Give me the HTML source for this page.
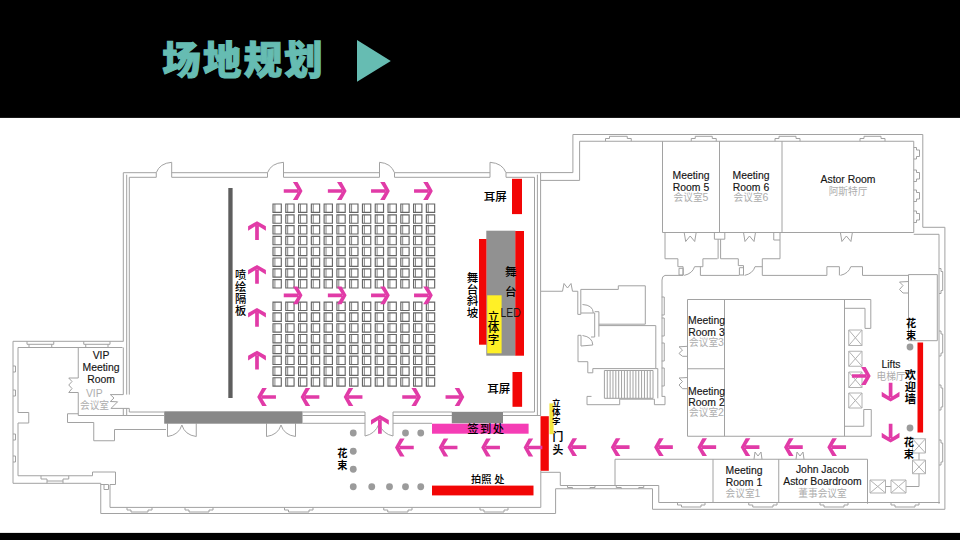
<!DOCTYPE html>
<html lang="zh"><head><meta charset="utf-8"><title>场地规划</title>
<style>
html,body{margin:0;padding:0;background:#fff;}
body{width:960px;height:540px;overflow:hidden;font-family:"Liberation Sans","Noto Sans CJK SC",sans-serif;}
svg{display:block}
.w{fill:none;stroke:#a2a2a2;stroke-width:1}
.seat{fill:none;stroke:#666;stroke-width:1.15}
.ar{fill:#e13ba7;stroke:none}
.en{font-family:"Liberation Sans",sans-serif;font-size:10.4px;fill:#151515;text-anchor:middle;stroke:#151515;stroke-width:0.14}
.cn{font-family:"Liberation Sans","Noto Sans CJK SC",sans-serif;font-size:9.7px;fill:#adadad;text-anchor:middle}
.lb{font-family:"Liberation Sans","Noto Sans CJK SC",sans-serif;font-size:11.5px;fill:#000;font-weight:500;text-anchor:middle}
</style></head><body>
<svg width="960" height="540" viewBox="0 0 960 540">
<rect x="0" y="0" width="960" height="540" fill="#fff"/>
<rect x="0" y="0" width="960" height="117.9" fill="#000"/>
<rect x="0" y="532.9" width="960" height="8" fill="#000"/>
<text x="162.3" y="74.2" font-family="'Liberation Sans','Noto Sans CJK SC',sans-serif" font-weight="900" font-size="38.4" letter-spacing="2.3" fill="#66bcb2" stroke="#66bcb2" stroke-width="1.1">场地规划</text>
<path d="M357 40.1L390.8 60.9L357 81.8Z" fill="#66bcb2"/>

<path class="w" d="M123.3 172.7 H156.25 M129.3 177.3 H156.25 M171.7 172.7 H267.5 M171.7 177.3 H267.5 M283.5 172.7 H379.5 M283.5 177.3 H379.5 M394.5 172.7 H490 M394.5 177.3 H490 M506 172.7 H540.6 M506 177.3 H534.5 M156.25 172.7 V177.3 M171.7 162.3 V177.3 M156.25 172.7 Q159.75 163.2 171.7 162.3 M267.5 172.7 V177.3 M283.5 162.3 V177.3 M267.5 172.7 Q271 163.2 283.5 162.3 M394.5 172.7 V177.3 M379.5 162.3 V177.3 M394.5 172.7 Q391 163.2 379.5 162.3 M506 172.7 V177.3 M490 162.3 V177.3 M506 172.7 Q502.5 163.2 490 162.3 M123.3 172.7 V341.5 M126.7 174.7 V394.6 M126.7 408.4 V415.5 M129.3 177.3 V394.6 M129.3 408.4 V412 M534.5 177.3 V412 M537.4 174.7 V415 M540.6 172.7 V416 M129.3 412 H164 M302.5 412 H365 M393 412 H452 M503 412 H534.5 M129.3 415.5 H164 M302.5 415.5 H365 M393 415.5 H452 M503 415.5 H540.6 M302.5 423.3 H365 M393 423.3 H432 M365 412 V436 M393 412 V436 M365 436 Q375 434 379 424 M393 436 Q383 434 379 424 M167.5 423.5 V436.5 M196.25 423.5 V436.5 M167.5 436.5 Q178.875 435 181.875 425 M196.25 436.5 Q184.875 435 181.875 425 M266.5 423.5 V436.5 M295.5 423.5 V436.5 M266.5 436.5 Q278 435 281 425 M295.5 436.5 Q284 435 281 425 M123.3 341.3 L13 341.3 L13 483.3 L100.75 483.3 L100.75 513.5 L555.6 513.5 L555.6 488.75 L652.5 488.75 L652.5 509.3 L944.9 509.3 M122.5 347.5 L18 347.5 L18 412.5 L28.75 412.5 L28.75 423 L18 423 L18 475.75 L92.5 475.75 L92.5 472 L115.5 472 L115.5 484.5 L110 484.5 L110 507.4 L540.8 507.4 L540.8 471 M104 484.5 L104 489.5 L108.5 489.5 L108.5 484.5 L100.75 484.5 M27 341.3 L27 344.3 L53.75 344.3 L53.75 341.3 M29 344.3 L29 347.5 M51.75 344.3 L51.75 347.5 M83.75 341.3 L83.75 344.3 L110 344.3 L110 341.3 M85.75 344.3 L85.75 347.5 M108 344.3 L108 347.5 M13 366 L15.5 366 L15.5 372 L13 372 M13 390 L15.5 390 L15.5 396 L13 396 M13 434 L15.5 434 L15.5 440 L13 440 M13 456 L15.5 456 L15.5 462 L13 462 M41 475.75 L41 479 L47 479 L47 483.3 M68.75 475.75 L68.75 479 L63 479 L63 483.3 M47 481 L63 481 M78.25 347.5 L78.25 378 M78.25 392.5 L78.25 415.5 L164 415.5 M123.3 347.5 L123.3 394.6 M123.3 408.4 L123.3 415.5 M78.25 378 L68.75 378 L72 381.5 L68.75 385 L72 388.5 L68.75 392.5 L78.25 392.5 M123.3 394.6 L110.3 394.6 L114 398 L110.3 401.5 L117.6 401.8 L111 408.4 L129.3 408.4 M78.25 413.75 L67.5 413.75 L67.5 422.5 L93.75 422.5 L93.75 440.75 L114.5 440.75 L114.5 429.5 L166 429.5 M127 507.5 L127 510 L131 510 L131 512 L148 512 L148 510 L152 510 L152 507.5 M185 507.5 L185 510 L189 510 L189 512 L209 512 L209 510 L213 510 L213 507.5 M284.5 507.5 L284.5 510 L288.5 510 L288.5 512 L309 512 L309 510 L313 510 L313 507.5 M383.75 507.5 L383.75 510 L387.75 510 L387.75 512 L408 512 L408 510 L412 510 L412 507.5 M480 507.5 L480 510 L484 510 L484 512 L504 512 L504 510 L508 510 L508 507.5 M540.6 172.6 L572.9 172.6 L572.9 134.5 L922.8 134.5 L922.8 227.3 L944.9 227.3 L944.9 509.3 M540.6 180.4 L579.6 180.4 L579.6 141.25 L913.75 141.25 L913.75 232.5 M913.75 234.3 L939 234.3 L939 503.75 M605.5 141.25 L605.5 138.5 L609.5 138.5 L609.5 136.3 L627.25 136.3 L627.25 138.5 L631.25 138.5 L631.25 141.25 M691.25 141.25 L691.25 138.5 L695.25 138.5 L695.25 136.3 L712.25 136.3 L712.25 138.5 L716.25 138.5 L716.25 141.25 M775 141.25 L775 138.5 L779 138.5 L779 136.3 L796 136.3 L796 138.5 L800 138.5 L800 141.25 M860 141.25 L860 138.5 L864 138.5 L864 136.3 L881 136.3 L881 138.5 L885 138.5 L885 141.25 M913.75 147.5 L916.5 147.5 L916.5 150 L919.5 150 L919.5 156.5 L916.5 156.5 L916.5 159 L913.75 159 M913.75 170 L916.5 170 L916.5 172.5 L919.5 172.5 L919.5 179 L916.5 179 L916.5 181.5 L913.75 181.5 M913.75 190 L916.5 190 L916.5 192.5 L919.5 192.5 L919.5 199 L916.5 199 L916.5 201.5 L913.75 201.5 M913.75 211 L916.5 211 L916.5 213.5 L919.5 213.5 L919.5 220 L916.5 220 L916.5 222.5 L913.75 222.5 M939 268.5 L941 268.5 L941 271.5 L942.7 271.5 L942.7 290.5 L941 290.5 L941 293.5 L939 293.5 M939 331 L941 331 L941 334 L942.7 334 L942.7 353 L941 353 L941 356 L939 356 M939 385 L941 385 L941 388 L942.7 388 L942.7 407 L941 407 L941 410 L939 410 M939 440 L941 440 L941 443 L942.7 443 L942.7 462 L941 462 L941 465 L939 465 M662.5 141.25 L662.5 232.5 L913.75 232.5 M719.5 141.25 L719.5 232.5 M782 141.25 L782 232.5 M665 232.5 L665 258.75 L677.9 258.75 L677.9 266.7 L683.1 266.7 L683.1 275.4 M679 268.3 H683.1 V275 H679 Z M684.2 275.4 Q692.5 273.5 694.6 266.7 M694.6 266.7 L702.9 266.7 L702.9 258.75 L717.5 258.75 M700.4 266.7 L700.4 275.4 L739.4 275.4 M718.1 239.2 L718.1 258.75 M720.6 239.2 L720.6 258.75 M714.4 232.5 H724.8 V239.2 H714.4 Z M720.6 258.75 L738.3 258.75 L738.3 265.6 L743.5 265.6 L743.5 275.4 M739.4 267.7 H743.5 V275 H739.4 Z M744.6 275.4 Q753 273.5 755 266.7 M755 266.7 L762.3 266.7 M762.3 275.4 L762.3 258.75 L780 258.75 L780 232.5 M773.75 232.5 L773.75 240 L780 240 M684.2 232.5 L685.7 241.5 L690.2 236 L694.7 241.5 L696.2 232.5 M743.5 232.5 L745 241.5 L749.5 236 L754 241.5 L755.5 232.5 M840.4 232.5 L841.9 241.5 L846.4 236 L850.9 241.5 L852.4 232.5 M665 275.4 L683.1 275.4 M762.3 275.4 L826.9 275.4 L826.9 266.7 L839.4 266.7 L839.4 275.4 M840.4 275.4 Q848.5 273.5 850.8 266.7 M850.8 266.7 L862.5 266.7 L862.5 275.4 L908.5 275.4 M908.5 274.6 H937.3 V340.7 H908.5 Z M908.5 281.5 L899.5 282 L903 285.5 L899.5 289.5 L903 293 L908.5 293 M665 275.4 Q662 276 662 280 V396.4 M661.75 297 L664.25 297 L664.25 315 L661.75 315 M661.75 318 L664.25 318 L664.25 336 L661.75 336 M661.75 343 L664.25 343 L664.25 361 L661.75 361 M661.75 368 L664.25 368 L664.25 386 L661.75 386 M687.5 436.25 L687.5 299.5 L870.8 299.5 L870.8 328.4 L865 328.4 L865 308.3 L844.5 308.3 M724.5 299.5 L724.5 436.25 M844.5 299.5 L844.5 436.25 M687.5 368.75 L724.5 368.75 M687.5 436.25 L871.25 436.25 L871.25 409.5 L863.75 409.5 L863.75 426.25 L844.5 426.25 M687.5 346.3 L679 346.8 L682.5 350 L679 353.5 L682.5 356.3 L687.5 356.3 M687.5 377.5 L679 378 L682.5 381.5 L679 385 L682.5 388.7 L687.5 388.7 M885.5 486.5 L891 486.5 M906 486.5 L919 486.5 L919 473.75 M919 453 L919 460 M615 485.5 L615 459.25 L867.5 459.25 L867.5 503.75 M713 459.25 L713 502.5 M778.75 459.25 L778.75 502.5 M754 459.25 L755 452 L758 456 L761 452 L762 459.25 M796 459.25 L797 452 L800 456 L803 452 L804 459.25 M540.8 472.3 L560.3 472.3 L560.3 485.5 L658.75 485.5 L658.75 502.5 L940 502.5 M567.5 485.5 L567.5 487.5 L572.5 487.5 L572.5 488.75 M595 485.5 L595 487.5 L590 487.5 L590 488.75 M616.25 485.5 L616.25 487.5 L621.25 487.5 L621.25 488.75 M643.75 485.5 L643.75 487.5 L638.75 487.5 L638.75 488.75 M677.5 502.5 L677.5 505 L681.5 505 L681.5 507 L701 507 L701 505 L705 505 L705 502.5 M748.75 502.5 L748.75 505 L752.75 505 L752.75 507 L773 507 L773 505 L777 505 L777 502.5 M820 502.5 L820 505 L824 505 L824 507 L844 507 L844 505 L848 505 L848 502.5 M891 502.5 L891 505 L895 505 L895 507 L915 507 L915 505 L919 505 L919 502.5 M541 291.25 L562.5 291.25 L564 283.5 L567.5 288 L571 283.5 L572.5 291.25 L577.8 291.25 M577.8 291.25 L577.8 314.4 L580.8 314.4 L580.8 289.4 L618.3 289.4 L618.3 285.8 L645.3 285.8 L645.3 324.2 L598.9 324.2 M582.5 304.5 Q593 305 593.3 313 L581 313 M593.3 313 L594.7 313 L594.7 337 L591 337 M598.9 311.7 L598.9 336.7 M594.7 311.7 L598.9 311.7 M578 335.3 L578 361.7 L587.8 361.7 L587.8 372.8 L592.8 372.8 L592.8 368.6 M578 335.3 L581 335.3 L581 346 M582.5 335.5 Q592.5 337 592.8 345 L581 346 M598.9 325.6 L655.8 325.6 L655.8 368.6 L592.8 368.6 M655.8 368.6 L657.8 368.6 L657.8 398.3 M587 396.4 L587 404.7 L619.7 404.7 L619.7 399.2 L654.4 399.2 L654.4 404.7 L665 404.7 L665 396.4 L661.75 396.4 M587 396.4 L591.5 396.4 M604.4 370.5 L653 370.5 M604.4 398.3 L653 398.3 M604.4 370.5 V398.3 M607.26 370.5 V398.3 M610.12 370.5 V398.3 M612.98 370.5 V398.3 M615.84 370.5 V398.3 M618.7 370.5 V398.3 M621.56 370.5 V398.3 M624.42 370.5 V398.3 M627.28 370.5 V398.3 M630.14 370.5 V398.3 M633 370.5 V398.3 M635.86 370.5 V398.3 M638.72 370.5 V398.3 M641.58 370.5 V398.3 M644.44 370.5 V398.3 M647.3 370.5 V398.3 M650.16 370.5 V398.3 M653.02 370.5 V398.3 "/>
<path class="w" style="stroke:#b2b2b2" d="M848.75 330 H862 V345.5 H848.75 Z M848.75 330 L862 345.5 M862 330 L848.75 345.5 M848.75 351.25 H862 V366.25 H848.75 Z M848.75 351.25 L862 366.25 M862 351.25 L848.75 366.25 M848.75 372 H862 V387.5 H848.75 Z M848.75 372 L862 387.5 M862 372 L848.75 387.5 M848.75 393 H862 V408 H848.75 Z M848.75 393 L862 408 M862 393 L848.75 408 M912.5 438.75 H925.5 V453 H912.5 Z M912.5 438.75 L925.5 453 M925.5 438.75 L912.5 453 M912.5 460 H925.5 V473.75 H912.5 Z M912.5 460 L925.5 473.75 M925.5 460 L912.5 473.75 M870 480 H885.5 V493 H870 Z M870 480 L885.5 493 M885.5 480 L870 493 M891 480 H906 V493 H891 Z M891 480 L906 493 M906 480 L891 493"/>
<path class="seat" d="M273.00 204.00h8.3v8.4h-8.3z M285.78 204.00h8.3v8.4h-8.3z M298.56 204.00h8.3v8.4h-8.3z M311.34 204.00h8.3v8.4h-8.3z M324.12 204.00h8.3v8.4h-8.3z M336.90 204.00h8.3v8.4h-8.3z M349.68 204.00h8.3v8.4h-8.3z M362.46 204.00h8.3v8.4h-8.3z M375.24 204.00h8.3v8.4h-8.3z M388.02 204.00h8.3v8.4h-8.3z M400.80 204.00h8.3v8.4h-8.3z M413.58 204.00h8.3v8.4h-8.3z M426.36 204.00h8.3v8.4h-8.3z M273.00 214.80h8.3v8.4h-8.3z M285.78 214.80h8.3v8.4h-8.3z M298.56 214.80h8.3v8.4h-8.3z M311.34 214.80h8.3v8.4h-8.3z M324.12 214.80h8.3v8.4h-8.3z M336.90 214.80h8.3v8.4h-8.3z M349.68 214.80h8.3v8.4h-8.3z M362.46 214.80h8.3v8.4h-8.3z M375.24 214.80h8.3v8.4h-8.3z M388.02 214.80h8.3v8.4h-8.3z M400.80 214.80h8.3v8.4h-8.3z M413.58 214.80h8.3v8.4h-8.3z M426.36 214.80h8.3v8.4h-8.3z M273.00 225.60h8.3v8.4h-8.3z M285.78 225.60h8.3v8.4h-8.3z M298.56 225.60h8.3v8.4h-8.3z M311.34 225.60h8.3v8.4h-8.3z M324.12 225.60h8.3v8.4h-8.3z M336.90 225.60h8.3v8.4h-8.3z M349.68 225.60h8.3v8.4h-8.3z M362.46 225.60h8.3v8.4h-8.3z M375.24 225.60h8.3v8.4h-8.3z M388.02 225.60h8.3v8.4h-8.3z M400.80 225.60h8.3v8.4h-8.3z M413.58 225.60h8.3v8.4h-8.3z M426.36 225.60h8.3v8.4h-8.3z M273.00 236.40h8.3v8.4h-8.3z M285.78 236.40h8.3v8.4h-8.3z M298.56 236.40h8.3v8.4h-8.3z M311.34 236.40h8.3v8.4h-8.3z M324.12 236.40h8.3v8.4h-8.3z M336.90 236.40h8.3v8.4h-8.3z M349.68 236.40h8.3v8.4h-8.3z M362.46 236.40h8.3v8.4h-8.3z M375.24 236.40h8.3v8.4h-8.3z M388.02 236.40h8.3v8.4h-8.3z M400.80 236.40h8.3v8.4h-8.3z M413.58 236.40h8.3v8.4h-8.3z M426.36 236.40h8.3v8.4h-8.3z M273.00 247.20h8.3v8.4h-8.3z M285.78 247.20h8.3v8.4h-8.3z M298.56 247.20h8.3v8.4h-8.3z M311.34 247.20h8.3v8.4h-8.3z M324.12 247.20h8.3v8.4h-8.3z M336.90 247.20h8.3v8.4h-8.3z M349.68 247.20h8.3v8.4h-8.3z M362.46 247.20h8.3v8.4h-8.3z M375.24 247.20h8.3v8.4h-8.3z M388.02 247.20h8.3v8.4h-8.3z M400.80 247.20h8.3v8.4h-8.3z M413.58 247.20h8.3v8.4h-8.3z M426.36 247.20h8.3v8.4h-8.3z M273.00 258.00h8.3v8.4h-8.3z M285.78 258.00h8.3v8.4h-8.3z M298.56 258.00h8.3v8.4h-8.3z M311.34 258.00h8.3v8.4h-8.3z M324.12 258.00h8.3v8.4h-8.3z M336.90 258.00h8.3v8.4h-8.3z M349.68 258.00h8.3v8.4h-8.3z M362.46 258.00h8.3v8.4h-8.3z M375.24 258.00h8.3v8.4h-8.3z M388.02 258.00h8.3v8.4h-8.3z M400.80 258.00h8.3v8.4h-8.3z M413.58 258.00h8.3v8.4h-8.3z M426.36 258.00h8.3v8.4h-8.3z M273.00 268.80h8.3v8.4h-8.3z M285.78 268.80h8.3v8.4h-8.3z M298.56 268.80h8.3v8.4h-8.3z M311.34 268.80h8.3v8.4h-8.3z M324.12 268.80h8.3v8.4h-8.3z M336.90 268.80h8.3v8.4h-8.3z M349.68 268.80h8.3v8.4h-8.3z M362.46 268.80h8.3v8.4h-8.3z M375.24 268.80h8.3v8.4h-8.3z M388.02 268.80h8.3v8.4h-8.3z M400.80 268.80h8.3v8.4h-8.3z M413.58 268.80h8.3v8.4h-8.3z M426.36 268.80h8.3v8.4h-8.3z M273.00 279.60h8.3v8.4h-8.3z M285.78 279.60h8.3v8.4h-8.3z M298.56 279.60h8.3v8.4h-8.3z M311.34 279.60h8.3v8.4h-8.3z M324.12 279.60h8.3v8.4h-8.3z M336.90 279.60h8.3v8.4h-8.3z M349.68 279.60h8.3v8.4h-8.3z M362.46 279.60h8.3v8.4h-8.3z M375.24 279.60h8.3v8.4h-8.3z M388.02 279.60h8.3v8.4h-8.3z M400.80 279.60h8.3v8.4h-8.3z M413.58 279.60h8.3v8.4h-8.3z M426.36 279.60h8.3v8.4h-8.3z M273.00 302.10h8.3v8.4h-8.3z M285.78 302.10h8.3v8.4h-8.3z M298.56 302.10h8.3v8.4h-8.3z M311.34 302.10h8.3v8.4h-8.3z M324.12 302.10h8.3v8.4h-8.3z M336.90 302.10h8.3v8.4h-8.3z M349.68 302.10h8.3v8.4h-8.3z M362.46 302.10h8.3v8.4h-8.3z M375.24 302.10h8.3v8.4h-8.3z M388.02 302.10h8.3v8.4h-8.3z M400.80 302.10h8.3v8.4h-8.3z M413.58 302.10h8.3v8.4h-8.3z M426.36 302.10h8.3v8.4h-8.3z M273.00 312.90h8.3v8.4h-8.3z M285.78 312.90h8.3v8.4h-8.3z M298.56 312.90h8.3v8.4h-8.3z M311.34 312.90h8.3v8.4h-8.3z M324.12 312.90h8.3v8.4h-8.3z M336.90 312.90h8.3v8.4h-8.3z M349.68 312.90h8.3v8.4h-8.3z M362.46 312.90h8.3v8.4h-8.3z M375.24 312.90h8.3v8.4h-8.3z M388.02 312.90h8.3v8.4h-8.3z M400.80 312.90h8.3v8.4h-8.3z M413.58 312.90h8.3v8.4h-8.3z M426.36 312.90h8.3v8.4h-8.3z M273.00 323.70h8.3v8.4h-8.3z M285.78 323.70h8.3v8.4h-8.3z M298.56 323.70h8.3v8.4h-8.3z M311.34 323.70h8.3v8.4h-8.3z M324.12 323.70h8.3v8.4h-8.3z M336.90 323.70h8.3v8.4h-8.3z M349.68 323.70h8.3v8.4h-8.3z M362.46 323.70h8.3v8.4h-8.3z M375.24 323.70h8.3v8.4h-8.3z M388.02 323.70h8.3v8.4h-8.3z M400.80 323.70h8.3v8.4h-8.3z M413.58 323.70h8.3v8.4h-8.3z M426.36 323.70h8.3v8.4h-8.3z M273.00 334.50h8.3v8.4h-8.3z M285.78 334.50h8.3v8.4h-8.3z M298.56 334.50h8.3v8.4h-8.3z M311.34 334.50h8.3v8.4h-8.3z M324.12 334.50h8.3v8.4h-8.3z M336.90 334.50h8.3v8.4h-8.3z M349.68 334.50h8.3v8.4h-8.3z M362.46 334.50h8.3v8.4h-8.3z M375.24 334.50h8.3v8.4h-8.3z M388.02 334.50h8.3v8.4h-8.3z M400.80 334.50h8.3v8.4h-8.3z M413.58 334.50h8.3v8.4h-8.3z M426.36 334.50h8.3v8.4h-8.3z M273.00 345.30h8.3v8.4h-8.3z M285.78 345.30h8.3v8.4h-8.3z M298.56 345.30h8.3v8.4h-8.3z M311.34 345.30h8.3v8.4h-8.3z M324.12 345.30h8.3v8.4h-8.3z M336.90 345.30h8.3v8.4h-8.3z M349.68 345.30h8.3v8.4h-8.3z M362.46 345.30h8.3v8.4h-8.3z M375.24 345.30h8.3v8.4h-8.3z M388.02 345.30h8.3v8.4h-8.3z M400.80 345.30h8.3v8.4h-8.3z M413.58 345.30h8.3v8.4h-8.3z M426.36 345.30h8.3v8.4h-8.3z M273.00 356.10h8.3v8.4h-8.3z M285.78 356.10h8.3v8.4h-8.3z M298.56 356.10h8.3v8.4h-8.3z M311.34 356.10h8.3v8.4h-8.3z M324.12 356.10h8.3v8.4h-8.3z M336.90 356.10h8.3v8.4h-8.3z M349.68 356.10h8.3v8.4h-8.3z M362.46 356.10h8.3v8.4h-8.3z M375.24 356.10h8.3v8.4h-8.3z M388.02 356.10h8.3v8.4h-8.3z M400.80 356.10h8.3v8.4h-8.3z M413.58 356.10h8.3v8.4h-8.3z M426.36 356.10h8.3v8.4h-8.3z M273.00 366.90h8.3v8.4h-8.3z M285.78 366.90h8.3v8.4h-8.3z M298.56 366.90h8.3v8.4h-8.3z M311.34 366.90h8.3v8.4h-8.3z M324.12 366.90h8.3v8.4h-8.3z M336.90 366.90h8.3v8.4h-8.3z M349.68 366.90h8.3v8.4h-8.3z M362.46 366.90h8.3v8.4h-8.3z M375.24 366.90h8.3v8.4h-8.3z M388.02 366.90h8.3v8.4h-8.3z M400.80 366.90h8.3v8.4h-8.3z M413.58 366.90h8.3v8.4h-8.3z M426.36 366.90h8.3v8.4h-8.3z M273.00 377.70h8.3v8.4h-8.3z M285.78 377.70h8.3v8.4h-8.3z M298.56 377.70h8.3v8.4h-8.3z M311.34 377.70h8.3v8.4h-8.3z M324.12 377.70h8.3v8.4h-8.3z M336.90 377.70h8.3v8.4h-8.3z M349.68 377.70h8.3v8.4h-8.3z M362.46 377.70h8.3v8.4h-8.3z M375.24 377.70h8.3v8.4h-8.3z M388.02 377.70h8.3v8.4h-8.3z M400.80 377.70h8.3v8.4h-8.3z M413.58 377.70h8.3v8.4h-8.3z M426.36 377.70h8.3v8.4h-8.3z"/>
<path class="seat" style="stroke-width:0.8" d="M274.90 204.00v8.4 M287.68 204.00v8.4 M300.46 204.00v8.4 M313.24 204.00v8.4 M326.02 204.00v8.4 M338.80 204.00v8.4 M351.58 204.00v8.4 M364.36 204.00v8.4 M377.14 204.00v8.4 M389.92 204.00v8.4 M402.70 204.00v8.4 M415.48 204.00v8.4 M428.26 204.00v8.4 M274.90 214.80v8.4 M287.68 214.80v8.4 M300.46 214.80v8.4 M313.24 214.80v8.4 M326.02 214.80v8.4 M338.80 214.80v8.4 M351.58 214.80v8.4 M364.36 214.80v8.4 M377.14 214.80v8.4 M389.92 214.80v8.4 M402.70 214.80v8.4 M415.48 214.80v8.4 M428.26 214.80v8.4 M274.90 225.60v8.4 M287.68 225.60v8.4 M300.46 225.60v8.4 M313.24 225.60v8.4 M326.02 225.60v8.4 M338.80 225.60v8.4 M351.58 225.60v8.4 M364.36 225.60v8.4 M377.14 225.60v8.4 M389.92 225.60v8.4 M402.70 225.60v8.4 M415.48 225.60v8.4 M428.26 225.60v8.4 M274.90 236.40v8.4 M287.68 236.40v8.4 M300.46 236.40v8.4 M313.24 236.40v8.4 M326.02 236.40v8.4 M338.80 236.40v8.4 M351.58 236.40v8.4 M364.36 236.40v8.4 M377.14 236.40v8.4 M389.92 236.40v8.4 M402.70 236.40v8.4 M415.48 236.40v8.4 M428.26 236.40v8.4 M274.90 247.20v8.4 M287.68 247.20v8.4 M300.46 247.20v8.4 M313.24 247.20v8.4 M326.02 247.20v8.4 M338.80 247.20v8.4 M351.58 247.20v8.4 M364.36 247.20v8.4 M377.14 247.20v8.4 M389.92 247.20v8.4 M402.70 247.20v8.4 M415.48 247.20v8.4 M428.26 247.20v8.4 M274.90 258.00v8.4 M287.68 258.00v8.4 M300.46 258.00v8.4 M313.24 258.00v8.4 M326.02 258.00v8.4 M338.80 258.00v8.4 M351.58 258.00v8.4 M364.36 258.00v8.4 M377.14 258.00v8.4 M389.92 258.00v8.4 M402.70 258.00v8.4 M415.48 258.00v8.4 M428.26 258.00v8.4 M274.90 268.80v8.4 M287.68 268.80v8.4 M300.46 268.80v8.4 M313.24 268.80v8.4 M326.02 268.80v8.4 M338.80 268.80v8.4 M351.58 268.80v8.4 M364.36 268.80v8.4 M377.14 268.80v8.4 M389.92 268.80v8.4 M402.70 268.80v8.4 M415.48 268.80v8.4 M428.26 268.80v8.4 M274.90 279.60v8.4 M287.68 279.60v8.4 M300.46 279.60v8.4 M313.24 279.60v8.4 M326.02 279.60v8.4 M338.80 279.60v8.4 M351.58 279.60v8.4 M364.36 279.60v8.4 M377.14 279.60v8.4 M389.92 279.60v8.4 M402.70 279.60v8.4 M415.48 279.60v8.4 M428.26 279.60v8.4 M274.90 302.10v8.4 M287.68 302.10v8.4 M300.46 302.10v8.4 M313.24 302.10v8.4 M326.02 302.10v8.4 M338.80 302.10v8.4 M351.58 302.10v8.4 M364.36 302.10v8.4 M377.14 302.10v8.4 M389.92 302.10v8.4 M402.70 302.10v8.4 M415.48 302.10v8.4 M428.26 302.10v8.4 M274.90 312.90v8.4 M287.68 312.90v8.4 M300.46 312.90v8.4 M313.24 312.90v8.4 M326.02 312.90v8.4 M338.80 312.90v8.4 M351.58 312.90v8.4 M364.36 312.90v8.4 M377.14 312.90v8.4 M389.92 312.90v8.4 M402.70 312.90v8.4 M415.48 312.90v8.4 M428.26 312.90v8.4 M274.90 323.70v8.4 M287.68 323.70v8.4 M300.46 323.70v8.4 M313.24 323.70v8.4 M326.02 323.70v8.4 M338.80 323.70v8.4 M351.58 323.70v8.4 M364.36 323.70v8.4 M377.14 323.70v8.4 M389.92 323.70v8.4 M402.70 323.70v8.4 M415.48 323.70v8.4 M428.26 323.70v8.4 M274.90 334.50v8.4 M287.68 334.50v8.4 M300.46 334.50v8.4 M313.24 334.50v8.4 M326.02 334.50v8.4 M338.80 334.50v8.4 M351.58 334.50v8.4 M364.36 334.50v8.4 M377.14 334.50v8.4 M389.92 334.50v8.4 M402.70 334.50v8.4 M415.48 334.50v8.4 M428.26 334.50v8.4 M274.90 345.30v8.4 M287.68 345.30v8.4 M300.46 345.30v8.4 M313.24 345.30v8.4 M326.02 345.30v8.4 M338.80 345.30v8.4 M351.58 345.30v8.4 M364.36 345.30v8.4 M377.14 345.30v8.4 M389.92 345.30v8.4 M402.70 345.30v8.4 M415.48 345.30v8.4 M428.26 345.30v8.4 M274.90 356.10v8.4 M287.68 356.10v8.4 M300.46 356.10v8.4 M313.24 356.10v8.4 M326.02 356.10v8.4 M338.80 356.10v8.4 M351.58 356.10v8.4 M364.36 356.10v8.4 M377.14 356.10v8.4 M389.92 356.10v8.4 M402.70 356.10v8.4 M415.48 356.10v8.4 M428.26 356.10v8.4 M274.90 366.90v8.4 M287.68 366.90v8.4 M300.46 366.90v8.4 M313.24 366.90v8.4 M326.02 366.90v8.4 M338.80 366.90v8.4 M351.58 366.90v8.4 M364.36 366.90v8.4 M377.14 366.90v8.4 M389.92 366.90v8.4 M402.70 366.90v8.4 M415.48 366.90v8.4 M428.26 366.90v8.4 M274.90 377.70v8.4 M287.68 377.70v8.4 M300.46 377.70v8.4 M313.24 377.70v8.4 M326.02 377.70v8.4 M338.80 377.70v8.4 M351.58 377.70v8.4 M364.36 377.70v8.4 M377.14 377.70v8.4 M389.92 377.70v8.4 M402.70 377.70v8.4 M415.48 377.70v8.4 M428.26 377.70v8.4"/>
<rect x="228.3" y="188" width="4.3" height="210" fill="#5e5e5e"/>
<rect x="164.2" y="411.3" width="138.3" height="12.4" fill="#888888"/>
<rect x="451.8" y="411.8" width="51.2" height="11.5" fill="#888888"/>
<rect x="486.3" y="230.7" width="29.2" height="125" fill="#919191"/>
<rect x="479" y="239" width="7.4" height="105.7" fill="#f20606"/>
<rect x="515.3" y="231" width="8.7" height="124.7" fill="#f20606"/>
<rect x="487.2" y="295.3" width="14.4" height="58" fill="#fff026"/>
<rect x="512" y="178.8" width="10" height="35.3" fill="#f20606"/>
<rect x="512.5" y="372" width="9.6" height="34.8" fill="#f20606"/>
<rect x="432" y="423.7" width="96.6" height="10" fill="#f53db5"/>
<rect x="432" y="485.6" width="101.5" height="9.8" fill="#f20606"/>
<rect x="549.4" y="403.4" width="4.2" height="30.8" fill="#f3e640"/>
<rect x="540.5" y="416.2" width="8.3" height="54.6" fill="#f20606"/>
<rect x="917.5" y="342.5" width="5.6" height="90" fill="#f20606"/>
<circle cx="353.25" cy="433" r="3.4" fill="#9b9b9b"/>
<circle cx="405.5" cy="433" r="3.4" fill="#9b9b9b"/>
<circle cx="420.75" cy="433" r="3.4" fill="#9b9b9b"/>
<circle cx="353.25" cy="451.25" r="3.4" fill="#9b9b9b"/>
<circle cx="353.25" cy="469.25" r="3.4" fill="#9b9b9b"/>
<circle cx="353.25" cy="486.75" r="3.4" fill="#9b9b9b"/>
<circle cx="371.75" cy="486.75" r="3.4" fill="#9b9b9b"/>
<circle cx="389.5" cy="486.75" r="3.4" fill="#9b9b9b"/>
<circle cx="405.5" cy="486.75" r="3.4" fill="#9b9b9b"/>
<circle cx="420.75" cy="486.75" r="3.4" fill="#9b9b9b"/>
<circle cx="910" cy="347" r="3.4" fill="#9b9b9b"/>
<circle cx="910" cy="428" r="3.4" fill="#9b9b9b"/>
<g class="ar"><g transform="translate(293.1 191) rotate(0)"><path d="M-9.35 -1.85H5V1.85H-9.35ZM-0.2 -8.9H4.4L9.4 0L4.4 8.9H-0.2L5.4 0Z"/></g><g transform="translate(293.1 295.3) rotate(0)"><path d="M-9.35 -1.85H5V1.85H-9.35ZM-0.2 -8.9H4.4L9.4 0L4.4 8.9H-0.2L5.4 0Z"/></g><g transform="translate(337.2 191) rotate(0)"><path d="M-9.35 -1.85H5V1.85H-9.35ZM-0.2 -8.9H4.4L9.4 0L4.4 8.9H-0.2L5.4 0Z"/></g><g transform="translate(337.2 295.3) rotate(0)"><path d="M-9.35 -1.85H5V1.85H-9.35ZM-0.2 -8.9H4.4L9.4 0L4.4 8.9H-0.2L5.4 0Z"/></g><g transform="translate(380.4 191) rotate(0)"><path d="M-9.35 -1.85H5V1.85H-9.35ZM-0.2 -8.9H4.4L9.4 0L4.4 8.9H-0.2L5.4 0Z"/></g><g transform="translate(380.4 295.3) rotate(0)"><path d="M-9.35 -1.85H5V1.85H-9.35ZM-0.2 -8.9H4.4L9.4 0L4.4 8.9H-0.2L5.4 0Z"/></g><g transform="translate(423.4 191) rotate(0)"><path d="M-9.35 -1.85H5V1.85H-9.35ZM-0.2 -8.9H4.4L9.4 0L4.4 8.9H-0.2L5.4 0Z"/></g><g transform="translate(423.4 295.3) rotate(0)"><path d="M-9.35 -1.85H5V1.85H-9.35ZM-0.2 -8.9H4.4L9.4 0L4.4 8.9H-0.2L5.4 0Z"/></g><g transform="translate(257 230.6) rotate(270)"><path d="M-9.35 -1.85H5V1.85H-9.35ZM-0.2 -8.9H4.4L9.4 0L4.4 8.9H-0.2L5.4 0Z"/></g><g transform="translate(257 274.4) rotate(270)"><path d="M-9.35 -1.85H5V1.85H-9.35ZM-0.2 -8.9H4.4L9.4 0L4.4 8.9H-0.2L5.4 0Z"/></g><g transform="translate(257 317.3) rotate(270)"><path d="M-9.35 -1.85H5V1.85H-9.35ZM-0.2 -8.9H4.4L9.4 0L4.4 8.9H-0.2L5.4 0Z"/></g><g transform="translate(257 360.2) rotate(270)"><path d="M-9.35 -1.85H5V1.85H-9.35ZM-0.2 -8.9H4.4L9.4 0L4.4 8.9H-0.2L5.4 0Z"/></g><g transform="translate(266.6 397) rotate(180)"><path d="M-9.35 -1.85H5V1.85H-9.35ZM-0.2 -8.9H4.4L9.4 0L4.4 8.9H-0.2L5.4 0Z"/></g><g transform="translate(310 397) rotate(180)"><path d="M-9.35 -1.85H5V1.85H-9.35ZM-0.2 -8.9H4.4L9.4 0L4.4 8.9H-0.2L5.4 0Z"/></g><g transform="translate(353.1 397) rotate(180)"><path d="M-9.35 -1.85H5V1.85H-9.35ZM-0.2 -8.9H4.4L9.4 0L4.4 8.9H-0.2L5.4 0Z"/></g><g transform="translate(411.6 397) rotate(0)"><path d="M-9.35 -1.85H5V1.85H-9.35ZM-0.2 -8.9H4.4L9.4 0L4.4 8.9H-0.2L5.4 0Z"/></g><g transform="translate(454.9 397) rotate(0)"><path d="M-9.35 -1.85H5V1.85H-9.35ZM-0.2 -8.9H4.4L9.4 0L4.4 8.9H-0.2L5.4 0Z"/></g><g transform="translate(379.9 424.5) rotate(270)"><path d="M-9.35 -1.85H5V1.85H-9.35ZM-0.2 -8.9H4.4L9.4 0L4.4 8.9H-0.2L5.4 0Z"/></g><g transform="translate(404.4 447.5) rotate(180)"><path d="M-9.35 -1.85H5V1.85H-9.35ZM-0.2 -8.9H4.4L9.4 0L4.4 8.9H-0.2L5.4 0Z"/></g><g transform="translate(448.1 447.5) rotate(180)"><path d="M-9.35 -1.85H5V1.85H-9.35ZM-0.2 -8.9H4.4L9.4 0L4.4 8.9H-0.2L5.4 0Z"/></g><g transform="translate(490.6 447.5) rotate(180)"><path d="M-9.35 -1.85H5V1.85H-9.35ZM-0.2 -8.9H4.4L9.4 0L4.4 8.9H-0.2L5.4 0Z"/></g><g transform="translate(533 447.5) rotate(180)"><path d="M-9.35 -1.85H5V1.85H-9.35ZM-0.2 -8.9H4.4L9.4 0L4.4 8.9H-0.2L5.4 0Z"/></g><g transform="translate(576.9 447.2) rotate(180)"><path d="M-9.35 -1.85H5V1.85H-9.35ZM-0.2 -8.9H4.4L9.4 0L4.4 8.9H-0.2L5.4 0Z"/></g><g transform="translate(620.2 447.2) rotate(180)"><path d="M-9.35 -1.85H5V1.85H-9.35ZM-0.2 -8.9H4.4L9.4 0L4.4 8.9H-0.2L5.4 0Z"/></g><g transform="translate(663.5 447.2) rotate(180)"><path d="M-9.35 -1.85H5V1.85H-9.35ZM-0.2 -8.9H4.4L9.4 0L4.4 8.9H-0.2L5.4 0Z"/></g><g transform="translate(706.8 447.2) rotate(180)"><path d="M-9.35 -1.85H5V1.85H-9.35ZM-0.2 -8.9H4.4L9.4 0L4.4 8.9H-0.2L5.4 0Z"/></g><g transform="translate(750.1 447.2) rotate(180)"><path d="M-9.35 -1.85H5V1.85H-9.35ZM-0.2 -8.9H4.4L9.4 0L4.4 8.9H-0.2L5.4 0Z"/></g><g transform="translate(793.4 447.2) rotate(180)"><path d="M-9.35 -1.85H5V1.85H-9.35ZM-0.2 -8.9H4.4L9.4 0L4.4 8.9H-0.2L5.4 0Z"/></g><g transform="translate(836.7 447.2) rotate(180)"><path d="M-9.35 -1.85H5V1.85H-9.35ZM-0.2 -8.9H4.4L9.4 0L4.4 8.9H-0.2L5.4 0Z"/></g><g transform="translate(861.25 376) rotate(0)"><path d="M-9.35 -1.85H5V1.85H-9.35ZM-0.2 -8.9H4.4L9.4 0L4.4 8.9H-0.2L5.4 0Z"/></g><g transform="translate(890.6 392) rotate(90)"><path d="M-9.35 -1.85H5V1.85H-9.35ZM-0.2 -8.9H4.4L9.4 0L4.4 8.9H-0.2L5.4 0Z"/></g><g transform="translate(890.6 433) rotate(90)"><path d="M-9.35 -1.85H5V1.85H-9.35ZM-0.2 -8.9H4.4L9.4 0L4.4 8.9H-0.2L5.4 0Z"/></g></g>
<text class="en" x="691" y="179.3">Meeting</text>
<text class="en" x="691" y="191">Room 5</text>
<text class="cn" x="691" y="201.3">会议室<tspan style="font-size:10.5px">5</tspan></text>
<text class="en" x="751" y="179.3">Meeting</text>
<text class="en" x="751" y="191">Room 6</text>
<text class="cn" x="751" y="201.3">会议室<tspan style="font-size:10.5px">6</tspan></text>
<text class="en" x="848" y="183">Astor Room</text>
<text class="cn" x="848" y="195.3">阿斯特厅</text>
<text class="en" x="706.5" y="324.2">Meeting</text>
<text class="en" x="706.5" y="336">Room 3</text>
<text class="cn" x="706.5" y="346.3">会议室<tspan style="font-size:10.5px">3</tspan></text>
<text class="en" x="706.5" y="394.5">Meeting</text>
<text class="en" x="706.5" y="406">Room 2</text>
<text class="cn" x="706.5" y="416">会议室<tspan style="font-size:10.5px">2</tspan></text>
<text class="en" x="744" y="474.3">Meeting</text>
<text class="en" x="744" y="486">Room 1</text>
<text class="cn" x="743" y="497">会议室<tspan style="font-size:10.5px">1</tspan></text>
<text class="en" x="822.5" y="473.2">John Jacob</text>
<text class="en" x="822.5" y="485">Astor Boardroom</text>
<text class="cn" x="822.5" y="497">董事会议室</text>
<text class="en" x="101" y="359.3">VIP</text>
<text class="en" x="101" y="371.3">Meeting</text>
<text class="en" x="101" y="383.3">Room</text>
<text class="cn" style="font-size:10.4px" x="94.3" y="397">VIP</text>
<text class="cn" x="94.5" y="409">会议室</text>
<text class="en" x="891" y="368">Lifts</text>
<text class="cn" x="891" y="379.7">电梯厅</text>
<text class="lb" x="495.2" y="201">耳屏</text>
<text class="lb" x="498.8" y="392.8">耳屏</text>
<text class="lb"><tspan x="472.4" y="282">舞</tspan><tspan x="472.4" y="293.55">台</tspan><tspan x="472.4" y="305.1">斜</tspan><tspan x="472.4" y="316.65">坡</tspan></text>
<text class="lb"><tspan x="510.7" y="276.3">舞</tspan><tspan x="510.7" y="296.3">台</tspan></text>
<text x="500.6" y="317.4" font-family="'Liberation Sans',sans-serif" font-size="12.4" fill="#1a1a1a" textLength="20.2" lengthAdjust="spacingAndGlyphs">LED</text>
<text class="lb"><tspan x="493.4" y="320.8">立</tspan><tspan x="493.4" y="332.4">体</tspan><tspan x="493.4" y="344">字</tspan></text>
<text class="lb" style="font-size:11.3px;"><tspan x="240.6" y="278.8">喷</tspan><tspan x="240.6" y="290.7">绘</tspan><tspan x="240.6" y="302.6">隔</tspan><tspan x="240.6" y="314.5">板</tspan></text>
<text class="lb" x="486.4" y="433.4" style="font-size:11.3px;letter-spacing:1.4px">签到处</text>
<text class="lb" x="487.8" y="482.9" style="font-size:10.2px;">拍照 处</text>
<text class="lb" style="font-size:8.5px;font-weight:700"><tspan x="556.2" y="405.9">立</tspan><tspan x="556.2" y="414.95">体</tspan><tspan x="556.2" y="424">字</tspan></text>
<text class="lb" style="font-size:10.8px;font-weight:700"><tspan x="558" y="441.2">门</tspan><tspan x="558" y="454">头</tspan></text>
<text class="lb" style="font-size:10.2px;font-weight:700"><tspan x="342.3" y="457.3">花</tspan><tspan x="342.3" y="468.9">束</tspan></text>
<text class="lb" style="font-size:10.2px;font-weight:700"><tspan x="911.2" y="326.8">花</tspan><tspan x="911.2" y="339.1">束</tspan></text>
<text class="lb" style="font-size:10.2px;font-weight:700"><tspan x="908.8" y="446">花</tspan><tspan x="908.8" y="457.8">束</tspan></text>
<text class="lb" style="font-size:11.2px;font-weight:700"><tspan x="910.3" y="378.6">欢</tspan><tspan x="910.3" y="391">迎</tspan><tspan x="910.3" y="403.4">墙</tspan></text>
</svg>
</body></html>
